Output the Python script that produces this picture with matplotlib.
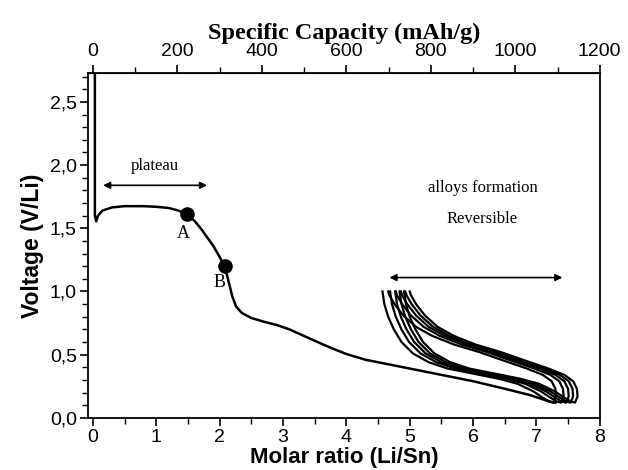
import numpy as np
import matplotlib
matplotlib.use("Agg")
import matplotlib.pyplot as plt
from matplotlib.ticker import MultipleLocator

# ---------------------------------------------------------------------------
# DATA
# ---------------------------------------------------------------------------
# first discharge: molar ratio Li/Sn vs voltage
first_x = [0.03, 0.03, 0.05, 0.08, 0.15, 0.30, 0.50, 0.80, 1.00, 1.20, 1.35,
           1.48, 1.60, 1.70, 1.80, 1.90, 1.98, 2.08, 2.14, 2.20, 2.26, 2.35,
           2.50, 2.70, 2.90, 3.10, 3.30, 3.50, 3.75, 4.00, 4.30, 4.60, 5.00,
           5.50, 6.00, 6.50, 6.90, 7.20, 7.30]
first_v = [2.90, 1.60, 1.555, 1.60, 1.64, 1.665, 1.675, 1.675, 1.67, 1.66, 1.64,
           1.61, 1.56, 1.50, 1.43, 1.36, 1.29, 1.20, 1.08, 0.96, 0.88, 0.83,
           0.79, 0.76, 0.735, 0.70, 0.655, 0.61, 0.555, 0.505, 0.46, 0.43, 0.39,
           0.34, 0.29, 0.23, 0.18, 0.13, 0.12]

# reversible cycling loop (first cycle), discharge then charge branch
loop_dis_x = [4.57, 4.60, 4.66, 4.75, 4.87, 5.05, 5.30, 5.60, 6.00, 6.40, 6.70,
              6.95, 7.10, 7.20, 7.27]
loop_dis_v = [1.00, 0.90, 0.80, 0.70, 0.60, 0.51, 0.44, 0.39, 0.35, 0.31, 0.27,
              0.21, 0.16, 0.13, 0.12]
loop_chg_x = [7.27, 7.31, 7.30, 7.24, 7.10, 6.85, 6.50, 6.10, 5.70, 5.35, 5.10,
              4.90, 4.76, 4.68, 4.66]
loop_chg_v = [0.12, 0.17, 0.23, 0.29, 0.34, 0.39, 0.45, 0.52, 0.58, 0.65, 0.72,
              0.81, 0.90, 0.97, 1.00]
# shift of each following cycle along the molar-ratio axis
cycle_shift = [0.0, 0.12, 0.20, 0.27, 0.34]

points_x = [1.48, 2.08]
points_v = [1.61, 1.20]

yticks = [0.0, 0.5, 1.0, 1.5, 2.0, 2.5]
ytick_labels = ["0,0", "0,5", "1,0", "1,5", "2,0", "2,5"]
xticks = [0, 1, 2, 3, 4, 5, 6, 7, 8]
cap_ticks = [0, 200, 400, 600, 800, 1000, 1200]
MAH_PER_UNIT = 150.0  # top axis scale: mAh/g per Li/Sn

# ---------------------------------------------------------------------------
# PLOT
# ---------------------------------------------------------------------------
SANS = ["Liberation Sans", "DejaVu Sans"]
SERIF = ["Liberation Serif", "DejaVu Serif"]

fig = plt.figure(figsize=(6.28, 4.70), dpi=100)
ax = fig.add_axes([0.140, 0.111, 0.815, 0.734])

ax.plot(first_x, first_v, color="black", lw=1.8, solid_joinstyle="round")
for dx in cycle_shift:
    xs = np.array(loop_dis_x + loop_chg_x) + dx
    vs = loop_dis_v + loop_chg_v
    ax.plot(xs, vs, color="black", lw=1.6, solid_joinstyle="round")

ax.plot(points_x, points_v, "o", color="black", ms=9.5)
ax.text(1.42, 1.46, "A", family=SERIF, fontsize=13, ha="center", va="center")
ax.text(1.99, 1.07, "B", family=SERIF, fontsize=13, ha="center", va="center")

arrow = dict(arrowstyle="<|-|>", color="black", lw=1.2, mutation_scale=10,
             shrinkA=0, shrinkB=0)
ax.annotate("", xy=(0.16, 1.84), xytext=(1.80, 1.84), arrowprops=arrow)
ax.text(0.98, 1.99, "plateau", family=SERIF, fontsize=12, ha="center", va="center")
ax.annotate("", xy=(4.68, 1.11), xytext=(7.41, 1.11), arrowprops=arrow)
ax.text(6.15, 1.82, "alloys formation", family=SERIF, fontsize=12,
        ha="center", va="center")
ax.text(6.15, 1.57, "Reversible", family=SERIF, fontsize=12,
        ha="center", va="center")

ax.set_xlim(-0.08, 8)
ax.set_ylim(0, 2.73)
ax.set_yticks(yticks)
ax.set_yticklabels(ytick_labels)
ax.set_xticks(xticks)
ax.yaxis.set_minor_locator(MultipleLocator(0.1))
ax.xaxis.set_minor_locator(MultipleLocator(0.5))
ax.tick_params(which="major", direction="out", length=6, width=1.2,
               labelsize=14, pad=2)
ax.tick_params(which="minor", direction="out", length=4, width=1.0)
for lab in ax.get_xticklabels() + ax.get_yticklabels():
    lab.set_family(SANS)
for sp in ax.spines.values():
    sp.set_linewidth(1.3)

ax.set_xlabel("Molar ratio (Li/Sn)", family=SANS, fontsize=16,
              fontweight="bold", labelpad=1)
ax.set_ylabel("Voltage (V/Li)", family=SANS, fontsize=16.5,
              fontweight="bold", labelpad=4)

top = ax.secondary_xaxis("top", functions=(lambda x: x * MAH_PER_UNIT,
                                           lambda c: c / MAH_PER_UNIT))
top.set_xticks(cap_ticks)
top.xaxis.set_minor_locator(MultipleLocator(100))
top.tick_params(which="major", direction="out", length=6, width=1.2,
                labelsize=14, pad=3)
top.tick_params(which="minor", direction="out", length=4, width=1.0)
for lab in top.get_xticklabels():
    lab.set_family(SANS)
top.set_xlabel("Specific Capacity (mAh/g)", family=SERIF, fontsize=17.5,
               fontweight="bold", labelpad=3)

fig.savefig("out.png", dpi=100)
